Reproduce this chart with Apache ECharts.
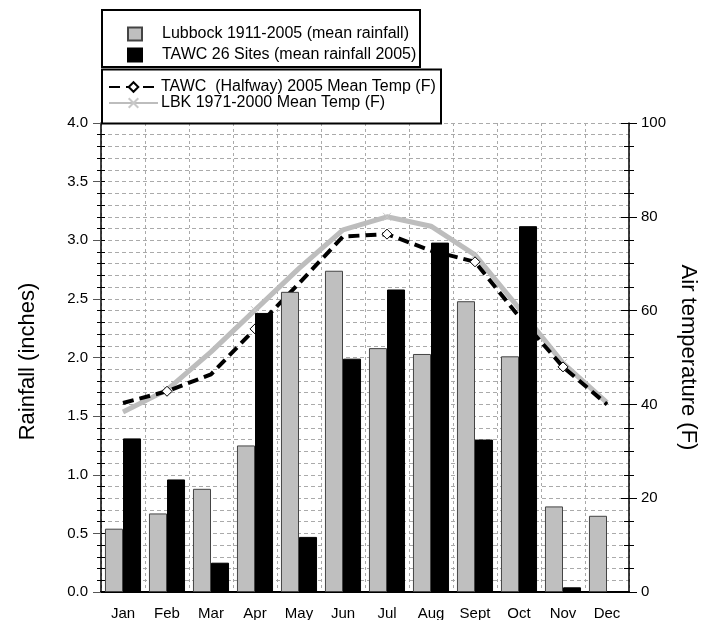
<!DOCTYPE html>
<html>
<head>
<meta charset="utf-8">
<script src="https://cdn.jsdelivr.net/npm/echarts@6/dist/echarts.min.js"></script>
<style>html,body{margin:0;padding:0;background:#fff;}#c{width:702px;height:620px;}</style>
</head>
<body>
<div id="c"></div>
<script>
var months = ['Jan','Feb','Mar','Apr','May','Jun','Jul','Aug','Sept','Oct','Nov','Dec'];
var lubbockRain = [0.54, 0.67, 0.88, 1.25, 2.56, 2.74, 2.08, 2.03, 2.48, 2.01, 0.73, 0.65];
var tawcRain = [1.31, 0.96, 0.25, 2.38, 0.47, 1.99, 2.58, 2.98, 1.30, 3.12, 0.04, null];
var tawcTemp = [40.3, 42.8, 46.4, 56.1, 65.8, 75.8, 76.3, 72.8, 70.4, 58.7, 48.0, 40.0];
var lbkTemp = [38.4, 43.1, 51.2, 60.1, 69.0, 77.2, 80.0, 78.0, 71.9, 60.5, 48.8, 40.4];
var markerIdx = [1, 3, 6, 8, 10];

var names = ['Lubbock 1911-2005 (mean rainfall)', 'TAWC 26 Sites (mean rainfall 2005)',
             'TAWC  (Halfway) 2005 Mean Temp (F)', 'LBK 1971-2000 Mean Temp (F)'];
var FONT = 'Liberation Sans';
var xMark = 'path://M0,0L10,10M10,0L0,10';

function withMarkers(vals, sym) {
  return vals.map(function (v, i) {
    return markerIdx.indexOf(i) >= 0 ? {value: v, symbol: sym} : {value: v, symbol: 'none'};
  });
}

var chart = echarts.init(document.getElementById('c'), null, {renderer: 'canvas'});
var leftAxisBase = {type: 'value', min: 0, max: 4, interval: 0.5, position: 'left'};
var rightAxisBase = {type: 'value', min: 0, max: 100, interval: 20, position: 'right'};
chart.setOption({
  animation: false,
  textStyle: {fontFamily: FONT},
  grid: {left: 101, right: 73, top: 123, bottom: 28, containLabel: false, outerBoundsMode: 'none'},
  graphic: [
    {type: 'rect', shape: {x: 102, y: 10, width: 318, height: 57}, style: {fill: null, stroke: '#000', lineWidth: 2}, z: 10},
    {type: 'rect', shape: {x: 102, y: 69.5, width: 339, height: 54}, style: {fill: null, stroke: '#000', lineWidth: 2}, z: 10}
  ],
  legend: [
    {data: [{name: names[0], icon: 'rect'}, {name: names[1], icon: 'rect'}], orient: 'vertical', left: 127, top: 26, padding: 0,
     itemWidth: 14, itemHeight: 13, itemGap: 5,
     textStyle: {fontSize: 16, lineHeight: 16, color: '#000', fontFamily: FONT, padding: [0, 0, 0, 15]}},
    {data: [names[2], names[3]], orient: 'vertical', left: 108, top: 79, padding: 0,
     itemWidth: 49, itemHeight: 12, itemGap: 0,
     textStyle: {fontSize: 16, lineHeight: 14, color: '#000', fontFamily: FONT, padding: [0, 0, 0, -2]}}
  ],
  xAxis: [
    {type: 'category', data: months, position: 'bottom',
     axisLine: {lineStyle: {color: '#000', width: 1.5}},
     axisTick: {inside: true, length: 5, lineStyle: {color: '#000'}},
     axisLabel: {color: '#000', fontSize: 15, margin: 14, fontFamily: FONT},
     splitLine: {show: true, lineStyle: {color: '#aaa', type: [3, 3], width: 1}}},
    {type: 'category', data: months, position: 'top',
     axisLine: {lineStyle: {color: '#000', width: 2}},
     axisTick: {inside: true, length: 6, lineStyle: {color: '#000'}},
     axisLabel: {show: false}, splitLine: {show: false}}
  ],
  yAxis: [
    Object.assign({}, leftAxisBase, {
      name: 'Rainfall (inches)', nameLocation: 'middle', nameGap: 62, nameRotate: 90,
      nameTextStyle: {fontSize: 22, color: '#000', fontFamily: FONT, padding: [0, 0, 0, -8]},
      axisLine: {show: true, lineStyle: {color: '#000', width: 1.5}},
      axisTick: {show: true, length: 8, lineStyle: {color: '#555'}},
      minorTick: {show: true, splitNumber: 5, length: 4, lineStyle: {color: '#000'}},
      axisLabel: {color: '#000', fontSize: 15, margin: 13, fontFamily: FONT, formatter: function (v) { return v.toFixed(1); }},
      splitLine: {show: true, lineStyle: {color: '#aaa', type: [4, 3], width: 1}},
      minorSplitLine: {show: true, lineStyle: {color: '#aaa', type: [4, 3], width: 1}}
    }),
    Object.assign({}, rightAxisBase, {
      name: 'Air temperature (F)', nameLocation: 'middle', nameGap: 38, nameRotate: -90,
      nameTextStyle: {fontSize: 22, color: '#000', fontFamily: FONT},
      axisLine: {show: true, lineStyle: {color: '#000', width: 1.5}},
      axisTick: {show: true, length: 8, lineStyle: {color: '#000'}},
      minorTick: {show: true, splitNumber: 4, length: 5, lineStyle: {color: '#000'}},
      axisLabel: {color: '#000', fontSize: 15, margin: 12, fontFamily: FONT},
      splitLine: {show: false}
    }),
    Object.assign({}, leftAxisBase, {
      axisLine: {show: false},
      axisTick: {show: true, inside: true, length: 4, lineStyle: {color: '#000'}},
      minorTick: {show: true, splitNumber: 5, length: 4, lineStyle: {color: '#000'}},
      axisLabel: {show: false}, splitLine: {show: false}
    }),
    Object.assign({}, rightAxisBase, {
      axisLine: {show: false},
      axisTick: {show: true, inside: true, length: 8, lineStyle: {color: '#000'}},
      minorTick: {show: true, splitNumber: 4, length: 5, lineStyle: {color: '#000'}},
      axisLabel: {show: false}, splitLine: {show: false}
    })
  ],
  series: [
    {name: names[0], type: 'bar', yAxisIndex: 0, data: lubbockRain, z: 5,
     barGap: '0%', barCategoryGap: '18%',
     itemStyle: {color: '#bfbfbf', borderColor: '#444', borderWidth: 1}},
    {name: names[1], type: 'bar', yAxisIndex: 0, data: tawcRain, z: 5,
     itemStyle: {color: '#000', borderColor: '#000', borderWidth: 1}},
    {name: names[2], type: 'line', yAxisIndex: 1, data: withMarkers(tawcTemp, 'diamond'), z: 4,
     symbol: 'diamond', symbolSize: 10, showAllSymbol: true,
     lineStyle: {color: '#000', width: 4, type: [11, 6]},
     itemStyle: {color: '#fff', borderColor: '#000', borderWidth: 1}},
    {name: names[3], type: 'line', yAxisIndex: 1, data: withMarkers(lbkTemp, xMark), z: 3,
     symbol: xMark, symbolSize: 8, showAllSymbol: true,
     lineStyle: {color: '#bdbdbd', width: 5},
     itemStyle: {color: 'none', borderColor: '#c8c8c8', borderWidth: 1}}
  ]
});
</script>
</body>
</html>
